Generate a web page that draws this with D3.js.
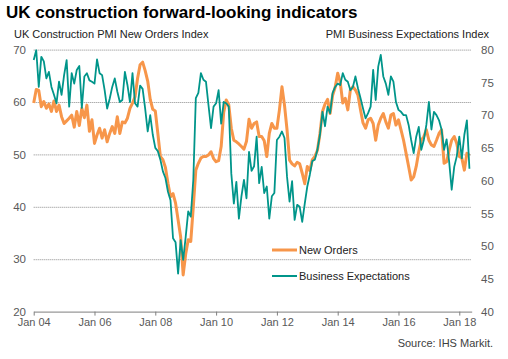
<!DOCTYPE html>
<html><head><meta charset="utf-8">
<script src="https://cdn.jsdelivr.net/npm/d3@7"></script>
<style>
html,body{margin:0;padding:0;background:#fff;}
svg{display:block;font-family:"Liberation Sans",Arial,sans-serif;}
</style></head>
<body><svg id="c" width="508" height="359"></svg>
<script>
// Monthly data, Jan 2004 onward
const startYear = 2004;
const newOrders = [
59.8,62.4,62.2,59.1,60.1,58.8,59.6,58.2,60.2,58.2,59.4,57.2,
55.9,56.4,56.9,57.5,55.2,58.2,55.5,58.8,57.0,59.4,54.4,56.6,
52.1,53.7,55.0,53.1,54.7,52.4,54.0,55.3,54.0,57.2,54.0,56.2,
56.0,56.9,58.8,59.8,61.0,64.5,67.1,67.6,66.0,64.0,60.5,58.6,
58.3,54.0,49.6,49.0,47.5,44.5,41.9,42.5,40.7,37.5,34.3,27.0,
31.0,33.7,33.4,40.0,47.0,48.3,49.3,49.6,49.6,49.9,50.5,49.2,
48.6,48.8,51.5,58.0,60.4,59.5,55.0,52.7,52.4,52.0,51.5,51.0,
52.5,56.7,55.0,55.9,56.2,53.4,53.4,52.6,49.6,54.0,55.9,55.0,
55.0,58.5,62.9,59.4,54.7,48.9,48.2,47.8,48.5,48.2,46.4,44.4,
47.7,46.9,49.0,49.6,50.8,54.0,58.2,59.6,60.5,57.8,61.3,62.8,
65.5,63.8,59.8,60.7,58.5,62.3,62.9,62.3,61.3,58.5,56.0,55.0,
56.6,56.9,55.9,52.7,55.6,56.9,57.8,56.2,55.0,57.5,57.8,55.6,
56.6,54.7,52.7,50.2,47.7,45.1,45.7,47.7,50.5,52.7,53.4,54.7,
52.7,51.8,51.5,52.7,54.0,54.7,48.3,48.6,50.8,52.7,53.4,52.1,
49.6,49.3,47.0,50.2,49.8
];
const businessExpectations = [
78.4,79.9,74.3,78.9,78.2,75.6,76.6,74.3,73.1,71.8,75.1,73.1,
76.1,78.4,71.3,76.4,74.8,76.9,77.5,71.1,75.9,76.4,75.3,75.1,
74.8,78.5,76.4,76.1,73.8,71.0,72.5,74.3,75.6,73.6,72.0,72.3,
76.6,74.6,72.0,76.4,71.8,71.3,74.5,74.0,71.0,67.5,70.0,67.0,
65.0,64.5,63.2,61.4,60.4,58.3,57.0,51.2,50.6,45.8,50.9,47.9,
51.4,55.3,54.5,60.1,72.6,73.4,76.4,75.4,75.1,71.5,68.0,71.3,
71.8,73.8,68.7,72.0,71.8,71.3,61.1,56.5,59.8,54.2,57.6,60.1,
57.3,64.4,61.5,62.2,66.7,59.6,62.1,58.1,59.1,54.2,57.6,58.1,
66.2,66.7,67.5,66.5,60.6,56.8,59.9,54.0,56.3,56.0,53.7,56.5,
59.1,60.9,63.0,63.2,64.7,67.0,70.5,68.3,71.3,70.3,73.4,74.3,
74.8,74.6,76.4,75.4,75.1,73.8,74.3,75.9,74.1,72.6,71.0,69.5,
70.3,71.3,76.9,72.3,77.4,79.2,75.9,74.8,73.1,75.9,75.1,72.0,
70.8,70.5,70.0,70.0,68.5,66.2,64.2,66.7,68.2,64.7,66.2,68.5,
72.0,67.8,70.5,70.0,69.2,67.8,64.7,66.3,62.9,58.6,62.1,63.7,
66.7,63.4,67.0,69.2,61.8
];
const xTickMonths = [0,24,48,72,96,120,144,168];
const xTickLabels = ["Jan 04","Jan 06","Jan 08","Jan 10","Jan 12","Jan 14","Jan 16","Jan 18"];
const leftTicks = [20,30,40,50,60,70];
const rightTicks = [40,45,50,55,60,65,70,75,80];
const seriesNames = ["New Orders","Business Expectations"];

const orange = "#F7964A", teal = "#00958A";
const svg = d3.select("#c");

const x = d3.scaleLinear().domain([0,172.9]).range([33.7,471.7]);
const yL = d3.scaleLinear().domain([20,70]).range([311.6,49.6]);
const yR = d3.scaleLinear().domain([40,80]).range([311.6,49.6]);

// title
svg.append("text").attr("x",6).attr("y",18).attr("font-size",17).attr("font-weight","bold")
  .attr("fill","#000").text("UK construction forward-looking indicators");
svg.append("text").attr("x",14).attr("y",38).attr("font-size",11).attr("fill","#222")
  .text("UK Construction PMI New Orders Index");
svg.append("text").attr("x",489).attr("y",38).attr("font-size",11).attr("fill","#222")
  .attr("text-anchor","end").text("PMI Business Expectations Index");

// gridlines
svg.append("g").selectAll("line").data(leftTicks.filter(d=>d>20)).join("line")
  .attr("x1",x(0)).attr("x2",x.range()[1])
  .attr("y1",d=>yL(d)+0.5).attr("y2",d=>yL(d)+0.5)
  .attr("stroke","#8a8a8a").attr("stroke-width",1).attr("stroke-dasharray","1,1");

// left axis
const gL = svg.append("g").attr("transform","translate(26,0)")
  .call(d3.axisLeft(yL).tickValues(leftTicks).tickSize(0).tickPadding(0));
gL.select(".domain").remove();
gL.selectAll("text").attr("font-size",11.5).attr("fill","#595959").attr("font-family","Liberation Sans, Arial, sans-serif");

// right axis
const gR = svg.append("g").attr("transform","translate(481,0)")
  .call(d3.axisRight(yR).tickValues(rightTicks).tickSize(0).tickPadding(0));
gR.select(".domain").remove();
gR.selectAll("text").attr("font-size",11.5).attr("fill","#595959").attr("font-family","Liberation Sans, Arial, sans-serif");

// x axis
const gX = svg.append("g").attr("transform",`translate(0,${yL(20)})`)
  .call(d3.axisBottom(x).tickValues(xTickMonths).tickFormat((d,i)=>xTickLabels[i]).tickSize(4).tickPadding(3).tickSizeOuter(0));
gX.select(".domain").attr("stroke","#7f7f7f");
gX.selectAll(".tick line").attr("stroke","#7f7f7f");
gX.selectAll("text").attr("font-size",11).attr("fill","#595959").attr("font-family","Liberation Sans, Arial, sans-serif");

// lines
const lineL = d3.line().x((d,i)=>x(i)).y(d=>yL(d));
const lineR = d3.line().x((d,i)=>x(i)).y(d=>yR(d));
svg.append("path").datum(newOrders).attr("d",lineL).attr("fill","none")
  .attr("stroke",orange).attr("stroke-width",3).attr("stroke-linejoin","round");
svg.append("path").datum(businessExpectations).attr("d",lineR).attr("fill","none")
  .attr("stroke",teal).attr("stroke-width",1.8).attr("stroke-linejoin","round");

// legend
const leg = svg.append("g");
[[orange,3,250],[teal,2,276]].forEach((c,i)=>{
  leg.append("line").attr("x1",272).attr("x2",297).attr("y1",c[2]).attr("y2",c[2])
    .attr("stroke",c[0]).attr("stroke-width",c[1]);
  leg.append("text").attr("x",299).attr("y",c[2]+4).attr("font-size",11).attr("fill","#222")
    .text(seriesNames[i]);
});

// source
svg.append("text").attr("x",493).attr("y",347).attr("text-anchor","end")
  .attr("font-size",11).attr("fill","#404040").text("Source: IHS Markit.");
</script></body></html>
